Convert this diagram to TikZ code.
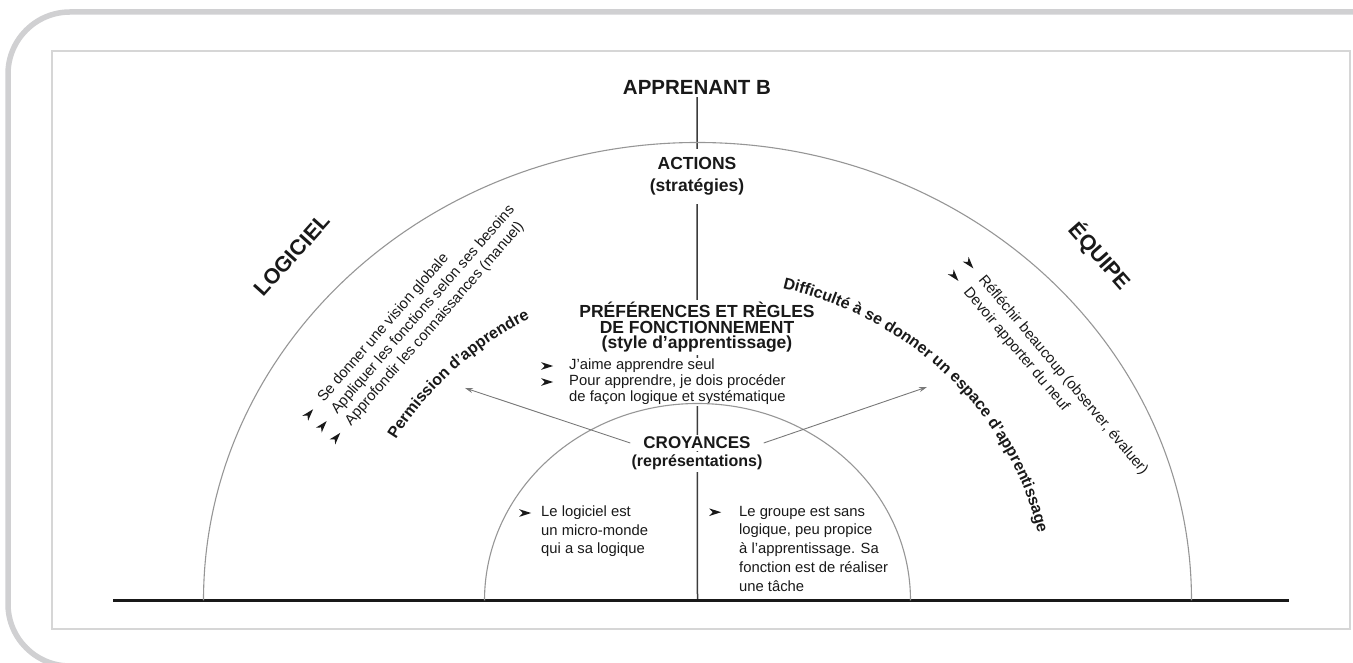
\documentclass[tikz,border=0pt]{standalone}
\usepackage{fontspec}
\setmainfont{Liberation Sans}
\usetikzlibrary{arrows.meta,decorations.text,backgrounds}

\definecolor{cadre}{RGB}{208,208,210}
\definecolor{cadrein}{RGB}{214,214,214}
\definecolor{arcgris}{RGB}{150,150,150}
\definecolor{encre}{RGB}{25,25,25}

\newcommand{\taille}[2]{\fontsize{#1}{#2}\selectfont}
\newcommand{\puce}[1]{\makebox[#1][l]{\tikz[baseline=-3.8pt]\fill[encre] (0,3.8pt) -- (12pt,0) -- (0,-3.8pt) -- (3.5pt,0) -- cycle;}}

\tikzset{
  titre/.style={font=\bfseries\taille{17.5}{19}, text=encre, fill=white, inner sep=2pt, align=center},
  liste/.style={font=\taille{14.8}{16}, text=encre, align=left, inner sep=1pt},
  cote/.style={font=\bfseries\taille{21.5}{24}, text=encre},
  arc/.style={draw=arcgris, line width=1.1pt},
  fleche/.style={draw=arcgris!80!black, line width=0.9pt, -{Stealth[length=8pt,width=5pt]}},
  axe/.style={draw=encre!85, line width=1.5pt}
}

\begin{document}
\begin{tikzpicture}[x=1pt,y=1pt]
    \useasboundingbox (0,0) rectangle (1353,663);
    % Cadres
    \draw[cadre,line width=5.5pt,rounded corners=62pt] (1420,-3) -- (8,-3) -- (8,651) -- (1420,651);
    \draw[cadrein,line width=2.3pt] (52,34) rectangle (1350,612);
    \draw[encre,line width=3pt] (113,62.5) -- (1289,62.5);
    \coordinate (ctr) at (697.5,62.5);

    % Titres au centre
    \node[titre,inner sep=3pt,font=\bfseries\taille{20.5}{22}] (app) at (697,576) {APPRENANT B};
    \node[titre,inner ysep=9pt,font=\bfseries\taille{17.5}{22}] (actions) at (697,486.5) {ACTIONS\\(stratégies)};
    \node[titre,font=\bfseries\taille{17.5}{15.5}] (pref) at (697,335.5) {PRÉFÉRENCES ET RÈGLES\\DE FONCTIONNEMENT\\(style d'apprentissage)};
    \node[liste,fill=white,anchor=west] (prefliste) at (540,281) {\puce{28pt}J'aime apprendre seul\\\puce{28pt}Pour apprendre, je dois procéder\\\makebox[28pt]{}de façon logique et systématique};
    \node[titre,inner xsep=13pt,font=\bfseries\taille{17}{19}] (croy) at (697,220) {CROYANCES};
    \node[titre,font=\bfseries\taille{16}{19}] (repr) at (697,201) {(représentations)};

    % Logiciel / Equipe
    \node[cote,rotate=48] (logiciel) at (292,408) {LOGICIEL};
    \node[cote,rotate=-48.5] (equipe) at (1100,407) {ÉQUIPE};
    \node[liste,rotate=49,anchor=west,font=\taille{14.8}{18}] (listelog) at (318,232) {\puce{24pt}Se donner une vision globale\\\puce{24pt}Appliquer les fonctions selon ses besoins\\\puce{24pt}Approfondir les connaissances (manuel)};
    \node[liste,rotate=-50,anchor=west,font=\taille{14.8}{19.5}] (listeeq) at (957.5,398.5) {\puce{24pt}Réfléchir beaucoup (observer, évaluer)\\\puce{24pt}Devoir apporter du neuf};

    % Croyances
    \node[liste,anchor=west,font=\taille{14.8}{18.5}] (croylog) at (518,131.5) {\puce{22pt}Le logiciel est\\\makebox[22pt]{}un micro-monde\\\makebox[22pt]{}qui a sa logique};
    \node[liste,anchor=west,font=\taille{14.8}{18.75}] (croyeq) at (708,114.5) {\puce{30pt}Le groupe est sans\\\makebox[30pt]{}logique, peu propice\\\makebox[30pt]{}à l'apprentissage. Sa\\\makebox[30pt]{}fonction est de réaliser\\\makebox[30pt]{}une tâche};

    % Arcs
    \draw[arc] (ctr) ++(-494,0) arc[start angle=180,end angle=0,x radius=494,y radius=458];
    \draw[arc] (ctr) ++(-213,0) arc[start angle=180,end angle=0,x radius=213,y radius=197];

    % Textes sur l'arc
    \path[decorate,decoration={text along path,text align=center,text color=encre,
        text={|\bfseries\taille{16}{18}|Permission d'apprendre}}]
        (ctr) ++(170:348 and 322) arc[start angle=170,end angle=100,x radius=348,y radius=322];
    \path[decorate,decoration={text along path,text align=center,text color=encre,
        text={|\bfseries\taille{16}{18}|Difficulté à se donner un espace d'apprentissage}}]
        (ctr) ++(88:348 and 322) arc[start angle=88,end angle=-1,x radius=348,y radius=322];

    % Fleches
    \coordinate (perm) at (465,275);
    \coordinate (espace) at (927,276);
    \draw[fleche] (croy.west) -- (perm);
    \draw[fleche] (croy.east) -- (espace);

    % Axe
    \begin{scope}[on background layer]
        \draw[axe] (app.south) -- (ctr);
    \end{scope}
\end{tikzpicture}
\end{document}
